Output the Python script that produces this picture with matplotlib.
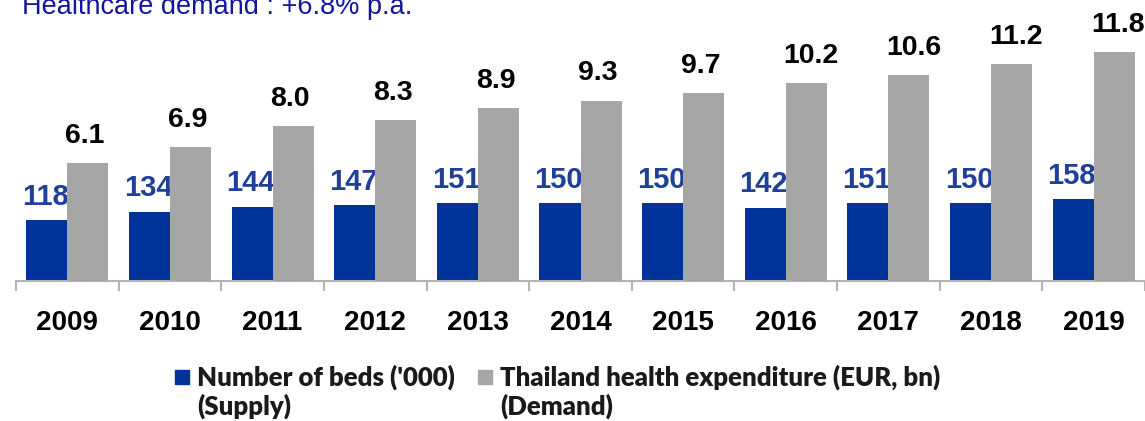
import matplotlib
matplotlib.use("Agg")
import matplotlib.pyplot as plt
from matplotlib.patches import Rectangle
from matplotlib.ticker import FixedLocator
import numpy as np

# ── Data ─────────────────────────────────────────────────────────────────────
years = ["2009", "2010", "2011", "2012", "2013", "2014",
         "2015", "2016", "2017", "2018", "2019"]
beds = [118, 134, 144, 147, 151, 150, 150, 142, 151, 150, 158]          # '000
spend = [6.1, 6.9, 8.0, 8.3, 8.9, 9.3, 9.7, 10.2, 10.6, 11.2, 11.8]      # EUR bn

BLUE = "#003399"
GREY = "#A6A6A6"
AXIS = "#B4B4B4"
NUM_FONT = "Liberation Sans"
LEG_FONT = "Lato"

W, H, DPI = 1145, 421, 100
fig = plt.figure(figsize=(W / DPI, H / DPI), dpi=DPI)

# axes spans from the top of the figure down to the baseline at y=281 px
left, right = 16 / W, 1145 / W
ax = fig.add_axes([left, 1 - 281 / H, right - left, 281 / H])
ax2 = ax.twinx()

x = np.arange(len(years))
bw = 0.4
ax.bar(x - bw / 2, beds, bw, color=BLUE, linewidth=0)
ax2.bar(x + bw / 2, spend, bw, color=GREY, linewidth=0)

ax.set_xlim(-0.5, len(years) - 0.5)
ax.set_ylim(0, 281 / 0.517)
ax2.set_ylim(0, 281 / 19.4)

for a in (ax, ax2):
    for s in ("top", "right", "left"):
        a.spines[s].set_visible(False)
    a.set_yticks([])
ax2.spines["bottom"].set_visible(False)
ax.spines["bottom"].set_color(AXIS)
ax.spines["bottom"].set_linewidth(1.5)

ax.set_xticks(x)
ax.set_xticklabels(years, fontsize=20, fontweight="bold", fontfamily=NUM_FONT)
ax.xaxis.set_minor_locator(FixedLocator(np.arange(-0.5, len(years), 1.0)))
ax.tick_params(axis="x", which="major", length=0, pad=21)
ax.tick_params(axis="x", which="minor", length=7.5, width=1.5, color=AXIS)

# value labels
for xi, b in zip(x, beds):
    ax.annotate(f"{b}", (xi - bw / 2, b), xytext=(-1, 11), textcoords="offset points",
                ha="center", va="baseline", fontsize=21, fontweight="bold",
                color="#1F3F99", fontfamily=NUM_FONT)
for xi, s in zip(x, spend):
    ax2.annotate(f"{s:.1f}", (xi, s), xytext=(-1.5, 14.5), textcoords="offset points",
                 ha="left", va="baseline", fontsize=20.5, fontweight="bold",
                 color="black", fontfamily=NUM_FONT)

# title (partly cut off at the top, as in the source)
fig.text(22 / W, 1 - 14 / H, "Healthcare demand : +6.8% p.a.", fontsize=19.5,
         color="#1414A0", fontfamily=NUM_FONT, va="baseline", ha="left")

# ── Manual legend ────────────────────────────────────────────────────────────
def legend_entry(px, color, lines):
    fig.patches.append(Rectangle((px / W, 1 - 384 / H), 14 / W, 14 / H,
                                 transform=fig.transFigure, color=color))
    for ln, py in zip(lines, (386, 415)):
        fig.text((px + 22) / W, 1 - py / H, ln, fontsize=18.5, fontweight="heavy",
                 fontfamily=LEG_FONT, va="baseline", ha="left", color="#1A1A1A")

legend_entry(175, BLUE, ["Number of beds ('000)", "(Supply)"])
legend_entry(478, GREY, ["Thailand health expenditure (EUR, bn)", "(Demand)"])

fig.savefig("out.png", dpi=DPI, facecolor="white")
plt.close(fig)
